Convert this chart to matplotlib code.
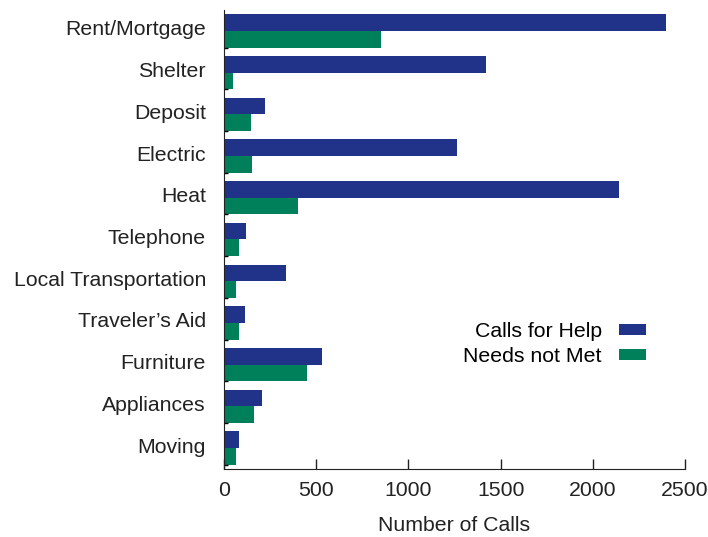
import matplotlib.pyplot as plt
import matplotlib.transforms as mtransforms
import numpy as np
from matplotlib.ticker import FixedLocator

plt.rcParams['font.family'] = ['Liberation Sans', 'DejaVu Sans']
plt.rcParams['font.size'] = 15.3

# data
categories = ['Rent/Mortgage', 'Shelter', 'Deposit', 'Electric', 'Heat', 'Telephone',
              'Local Transportation', 'Traveler\u2019s Aid', 'Furniture', 'Appliances', 'Moving']
calls_for_help = [2395, 1419, 224, 1264, 2140, 118, 336, 116, 533, 204, 81]
needs_not_met = [853, 47, 148, 152, 401, 81, 67, 81, 448, 165, 67]

blue = '#213388'
green = '#00805a'
text_col = '#222222'

fig = plt.figure(figsize=(7.08, 5.37), dpi=100)
ax = fig.add_axes([224/708, 1 - 469/537, 461/708, 459/537])

y = np.arange(len(categories))
h = 0.4
ax.barh(y - 0.2, calls_for_help, height=h, color=blue, label='Calls for Help')
ax.barh(y + 0.2, needs_not_met, height=h, color=green, label='Needs not Met')

ax.set_ylim(10.5, -0.5)
ax.set_xlim(0, 2500)
ax.set_xticks([0, 500, 1000, 1500, 2000, 2500])
ax.set_yticks(y)
ax.set_yticklabels(categories, color=text_col)
ax.yaxis.set_minor_locator(FixedLocator(y + 0.4))
ax.tick_params(axis='y', which='major', length=0, pad=13)
ax.tick_params(axis='y', which='minor', direction='in', length=3, width=1)
ax.tick_params(axis='x', direction='in', length=7, width=1, pad=9, colors=text_col)
for lbl in ax.get_xticklabels():
    lbl.set_color(text_col)

# category labels sit a little above the middle of each bar pair
shift = mtransforms.ScaledTranslation(0, 3/100, fig.dpi_scale_trans)
for lbl in ax.get_yticklabels():
    lbl.set_transform(lbl.get_transform() + shift)

ax.spines['top'].set_visible(False)
ax.spines['right'].set_visible(False)
ax.spines['left'].set_color('#222222')
ax.spines['bottom'].set_color('#222222')
ax.set_xlabel('Number of Calls', labelpad=11, color=text_col)

ax.legend(loc='center right', bbox_to_anchor=(646/708, 1 - 344/537),
          bbox_transform=fig.transFigure, frameon=False, borderaxespad=0, borderpad=0,
          markerfirst=False, handlelength=1.28, handleheight=0.42,
          labelspacing=0.32, handletextpad=0.8, fontsize=15.3)

fig.savefig('out.png', dpi=100)
